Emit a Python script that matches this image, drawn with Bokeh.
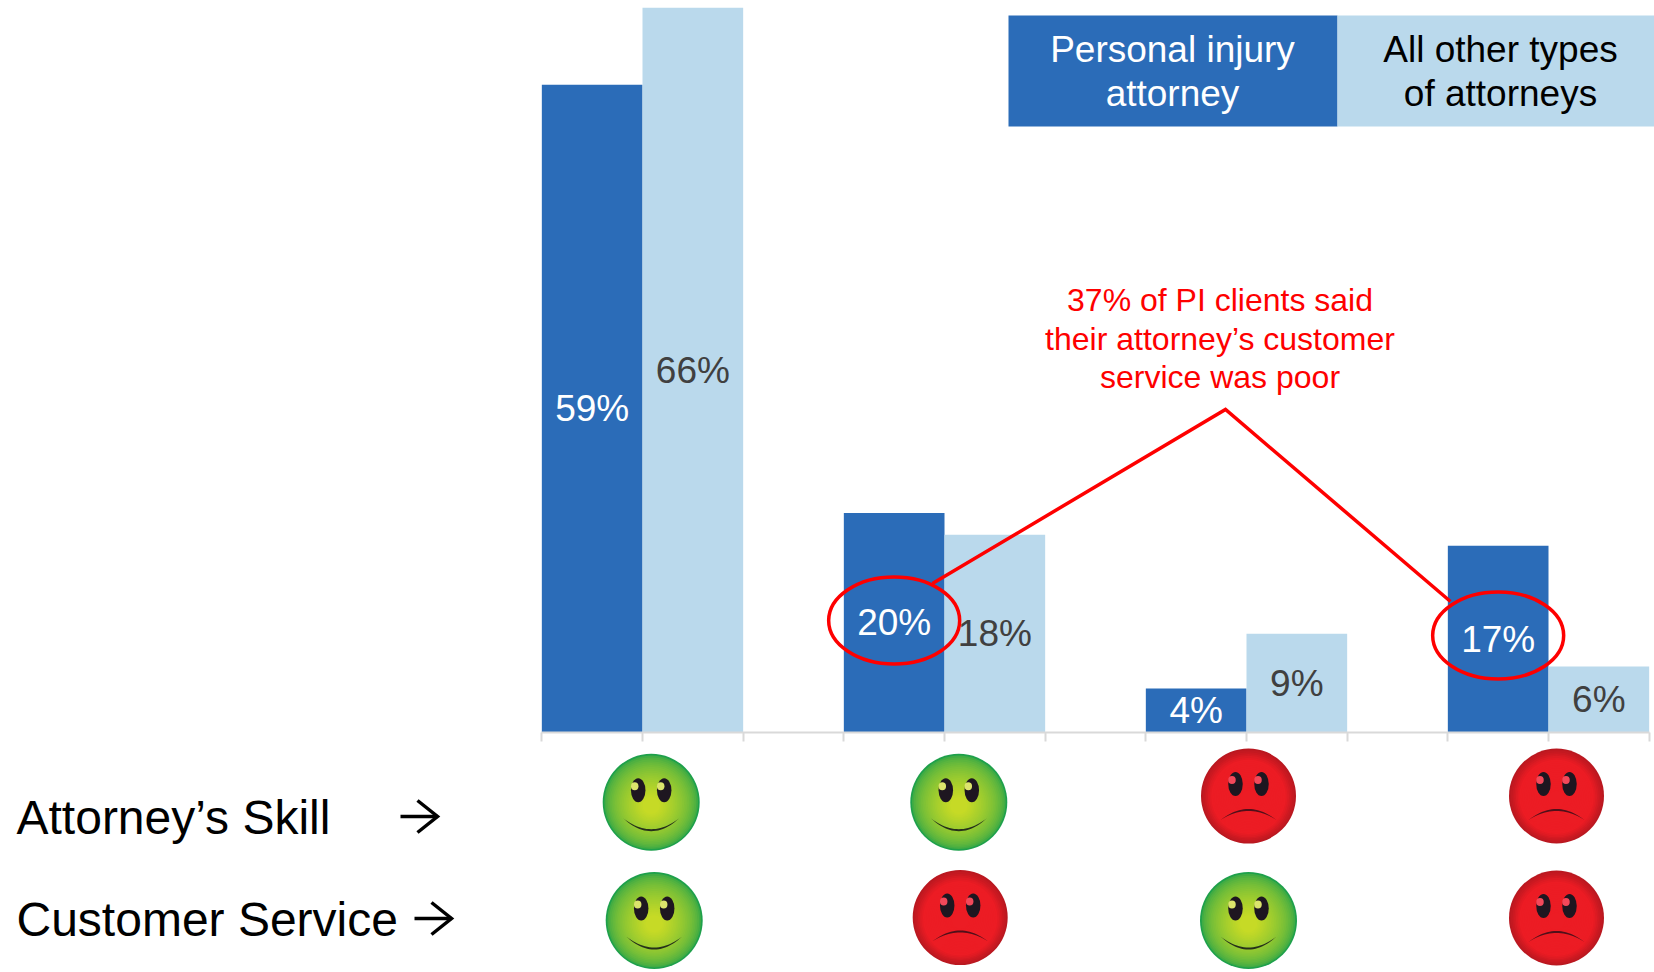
from bokeh.plotting import figure
from bokeh.embed import file_html
from bokeh.resources import INLINE
from bokeh.core.properties import value
from bokeh.models import Range1d, LinearAxis, FixedTicker
import numpy as np

# ---------- data ----------
groups = [0, 1, 2, 3]
pi_values = [59, 20, 4, 17]
other_values = [66, 18, 9, 6]
pi_name = "Personal injury\nattorney"
other_name = "All other types\nof attorneys"
skill_mood = ["good", "good", "bad", "bad"]
service_mood = ["good", "bad", "good", "bad"]
row_labels = ["Attorney\u2019s Skill", "Customer Service"]
callout = "37% of PI clients said\ntheir attorney\u2019s customer\nservice was poor"
circled = [1, 3]

# ---------- page geometry ----------
W, H = 1654, 972
BASE_PX, GROUP0_PX, GROUP_W, PCT = 732, 642.0, 302.0, 10.98
FONT = value("Liberation Sans")
BLUE, LIGHT = "#2b6cb8", "#bad9ec"
RED = "#fe0000"

def X(px): return (np.asarray(px, float) - GROUP0_PX) / GROUP_W
def Y(py): return (BASE_PX - np.asarray(py, float)) / PCT
def XL(px): return np.asarray(px, float) / GROUP_W
def YL(px): return np.asarray(px, float) / PCT

p = figure(width=W, height=H, output_backend="svg", toolbar_location=None,
           x_range=Range1d(float(X(0)), float(X(W))),
           y_range=Range1d(float(Y(H)), float(Y(0))),
           min_border=0, min_border_left=0, min_border_right=0,
           min_border_top=0, min_border_bottom=0,
           x_axis_type=None, y_axis_type=None, outline_line_color=None)
p.xgrid.visible = False
p.ygrid.visible = False

# ---------- bars ----------
BW = 1 / 3
g = np.array(groups, float)
p.vbar(x=g - BW / 2, top=pi_values, bottom=0, width=BW, fill_color=BLUE, line_color=None)
p.vbar(x=g + BW / 2, top=other_values, bottom=0, width=BW, fill_color=LIGHT, line_color=None)

# ---------- axis ----------
edges = sorted(float(c + d) for c in groups for d in (-BW, 0, BW))
ax = LinearAxis(ticker=FixedTicker(ticks=edges), fixed_location=0,
                bounds=(edges[0], float(X(1649))),
                axis_line_color="#d9d9d9", axis_line_width=2,
                major_tick_line_color="#d9d9d9", major_tick_line_width=2,
                major_tick_in=0, major_tick_out=9, minor_tick_line_color=None,
                major_label_text_font_size="0px", major_label_text_color=None)
p.add_layout(ax, "below")

# ---------- value labels ----------
LABEL = "37px"
p.text(x=g - BW / 2, y=np.array(pi_values) / 2, text=[f"{v}%" for v in pi_values],
       text_color="white", text_font=FONT, text_font_size=LABEL,
       text_align="center", text_baseline="middle")
p.text(x=g + BW / 2, y=np.array(other_values) / 2, text=[f"{v}%" for v in other_values],
       text_color="#404040", text_font=FONT, text_font_size=LABEL,
       text_align="center", text_baseline="middle")

# ---------- legend header ----------
p.quad(left=X(1008), right=X(1337), top=Y(15), bottom=Y(126), fill_color=BLUE, line_color=None)
p.quad(left=X(1337), right=X(1654), top=Y(15), bottom=Y(126), fill_color=LIGHT, line_color=None)
for cx, txt, col in ((1172, pi_name, "white"), (1500, other_name, "black")):
    for i, line in enumerate(txt.split("\n")):
        p.text(x=[float(X(cx))], y=[float(Y(49 + i * 44))], text=[line], text_color=col,
               text_font=FONT, text_font_size="37px", text_align="center", text_baseline="middle")

# ---------- callout ----------
for i, line in enumerate(callout.split("\n")):
    p.text(x=[float(X(1219.5))], y=[float(Y(299.5 + i * 38.5))], text=[line], text_color=RED,
           text_font=FONT, text_font_size="32px", text_align="center", text_baseline="middle")
p.line(x=X([932, 1225, 1450]), y=Y([583, 409, 601]), line_color=RED, line_width=3.5, line_join="miter")
ell_y = {1: 620, 3: 635}
for c in circled:
    cx = float(g[c]) - BW / 2
    p.ellipse(x=[cx], y=[float(Y(ell_y[c]))], width=float(XL(131)), height=float(YL(87)),
              fill_color=None, line_color=RED, line_width=3.5)

# ---------- row labels ----------
for lab, py, ax_px in ((row_labels[0], 817, 420), (row_labels[1], 919, 434)):
    p.text(x=[float(X(16))], y=[float(Y(py))], text=[lab], text_color="black", text_font=FONT,
           text_font_size="48px", text_align="left", text_baseline="middle")
    p.segment(x0=X(ax_px - 20), y0=Y(py - 1), x1=X(ax_px + 17), y1=Y(py - 1), line_color="black", line_width=3.5)
    p.line(x=X([ax_px - 3, ax_px + 17, ax_px - 3]), y=Y([py - 17, py - 1, py + 15]), line_color="black",
           line_width=3.5, line_join="miter")

# ---------- smiley faces ----------
def lerp(a, b, t):
    return "#%02x%02x%02x" % tuple(int(round(a[i] + (b[i] - a[i]) * t)) for i in range(3))

def face(cx, cy, r, mood):
    if mood == "good":
        outer, inner, eye_hi = (30, 160, 75), (198, 218, 38), "#dce46c"
    else:
        outer, inner, eye_hi = (186, 24, 32), (236, 28, 36), "#f4485a"
    n = 24
    for k in range(n):
        t = k / (n - 1)
        tt = t ** 0.5 if mood == "good" else min(1.0, t * 4)
        rr = r * (1 - 0.82 * t)
        p.scatter(x=[float(X(cx))], y=[float(Y(cy + (r - rr) * 0.08))], size=2 * rr, marker="circle",
                  fill_color=lerp(outer, inner, tt), line_color=None)
    for side in (-1, 1):
        ex, ey = cx + side * 13, cy - 12
        p.ellipse(x=[float(X(ex))], y=[float(Y(ey))], width=float(XL(14.5)), height=float(YL(24)),
                  fill_color="#1e1620", line_color=None)
        p.ellipse(x=[float(X(ex - 3.5))], y=[float(Y(ey - 4))], width=float(XL(7.5)), height=float(YL(8)),
                  fill_color=eye_hi, line_color=None)
    u = np.linspace(-1, 1, 25)
    half = 28
    if mood == "good":
        top = cy + 27 - 11 * u ** 2
    else:
        top = cy + 13 + 11 * u ** 2
    lo = top + 2.0 * (1 - u ** 2)
    mx = cx + half * u
    p.patch(x=X(np.r_[mx, mx[::-1]]), y=Y(np.r_[top, lo[::-1]]),
            fill_color="#26301a" if mood == "good" else "#50101a", line_color=None)

skill_pos = [(650.7, 801.7, 48.5), (958.3, 801.7, 48.5), (1248, 795.5, 47.5), (1556, 795.5, 47.5)]
service_pos = [(653.7, 920, 48.5), (959.7, 917, 47.5), (1248, 920, 48.5), (1556, 917.5, 47.5)]
for (cx, cy, r), m in zip(skill_pos, skill_mood):
    face(cx, cy, r, m)
for (cx, cy, r), m in zip(service_pos, service_mood):
    face(cx, cy, r, m)

open("out.html", "w").write(file_html(p, INLINE))
